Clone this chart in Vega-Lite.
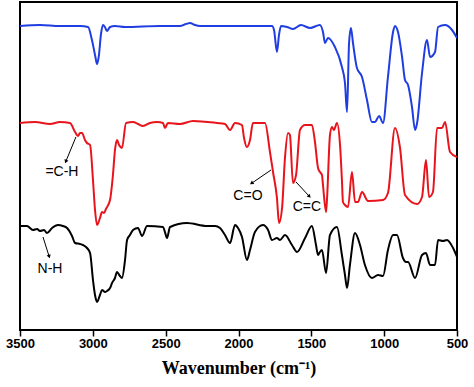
{
  "$schema": "https://vega.github.io/schema/vega-lite/v6.json",
  "width": 437,
  "height": 328,
  "autosize": {"type": "none"},
  "padding": {"left": 20, "top": 2, "right": 17, "bottom": 57},
  "background": "white",
  "config": {
    "view": {"stroke": "black", "strokeWidth": 2},
    "axis": {"grid": false}
  },
  "datasets": {
    "spectra": [
      {"s": "blue", "wn": 3500, "t": 304}, {"s": "blue", "wn": 3363, "t": 305}, {"s": "blue", "wn": 3225, "t": 304}, {"s": "blue", "wn": 3088, "t": 304},
      {"s": "blue", "wn": 3033, "t": 303}, {"s": "blue", "wn": 3006, "t": 290}, {"s": "blue", "wn": 2985, "t": 275}, {"s": "blue", "wn": 2971, "t": 266},
      {"s": "blue", "wn": 2958, "t": 275}, {"s": "blue", "wn": 2944, "t": 296}, {"s": "blue", "wn": 2930, "t": 305}, {"s": "blue", "wn": 2917, "t": 303},
      {"s": "blue", "wn": 2903, "t": 299}, {"s": "blue", "wn": 2882, "t": 303}, {"s": "blue", "wn": 2848, "t": 304}, {"s": "blue", "wn": 2779, "t": 303},
      {"s": "blue", "wn": 2539, "t": 304}, {"s": "blue", "wn": 2402, "t": 304}, {"s": "blue", "wn": 2360, "t": 306}, {"s": "blue", "wn": 2333, "t": 307},
      {"s": "blue", "wn": 2299, "t": 305}, {"s": "blue", "wn": 2264, "t": 304}, {"s": "blue", "wn": 1990, "t": 304}, {"s": "blue", "wn": 1770, "t": 304},
      {"s": "blue", "wn": 1756, "t": 300}, {"s": "blue", "wn": 1736, "t": 278}, {"s": "blue", "wn": 1722, "t": 295}, {"s": "blue", "wn": 1708, "t": 304},
      {"s": "blue", "wn": 1667, "t": 303}, {"s": "blue", "wn": 1626, "t": 301}, {"s": "blue", "wn": 1571, "t": 305}, {"s": "blue", "wn": 1509, "t": 302},
      {"s": "blue", "wn": 1441, "t": 305}, {"s": "blue", "wn": 1420, "t": 298}, {"s": "blue", "wn": 1406, "t": 287}, {"s": "blue", "wn": 1386, "t": 292},
      {"s": "blue", "wn": 1338, "t": 283}, {"s": "blue", "wn": 1290, "t": 263}, {"s": "blue", "wn": 1269, "t": 247}, {"s": "blue", "wn": 1255, "t": 218},
      {"s": "blue", "wn": 1241, "t": 287}, {"s": "blue", "wn": 1228, "t": 302}, {"s": "blue", "wn": 1214, "t": 287}, {"s": "blue", "wn": 1187, "t": 262},
      {"s": "blue", "wn": 1152, "t": 253}, {"s": "blue", "wn": 1118, "t": 230}, {"s": "blue", "wn": 1084, "t": 208}, {"s": "blue", "wn": 1063, "t": 208},
      {"s": "blue", "wn": 1035, "t": 214}, {"s": "blue", "wn": 1008, "t": 207}, {"s": "blue", "wn": 974, "t": 253}, {"s": "blue", "wn": 939, "t": 298},
      {"s": "blue", "wn": 926, "t": 304}, {"s": "blue", "wn": 905, "t": 298}, {"s": "blue", "wn": 877, "t": 273}, {"s": "blue", "wn": 857, "t": 250},
      {"s": "blue", "wn": 836, "t": 245}, {"s": "blue", "wn": 809, "t": 223}, {"s": "blue", "wn": 788, "t": 200}, {"s": "blue", "wn": 774, "t": 207},
      {"s": "blue", "wn": 740, "t": 257}, {"s": "blue", "wn": 706, "t": 290}, {"s": "blue", "wn": 685, "t": 273}, {"s": "blue", "wn": 651, "t": 278},
      {"s": "blue", "wn": 630, "t": 303}, {"s": "blue", "wn": 582, "t": 305}, {"s": "blue", "wn": 534, "t": 300}, {"s": "blue", "wn": 500, "t": 292},

      {"s": "red", "wn": 3500, "t": 207}, {"s": "red", "wn": 3397, "t": 208}, {"s": "red", "wn": 3294, "t": 206}, {"s": "red", "wn": 3225, "t": 208},
      {"s": "red", "wn": 3157, "t": 207}, {"s": "red", "wn": 3122, "t": 198}, {"s": "red", "wn": 3102, "t": 194}, {"s": "red", "wn": 3088, "t": 197},
      {"s": "red", "wn": 3074, "t": 197}, {"s": "red", "wn": 3054, "t": 190}, {"s": "red", "wn": 3040, "t": 187}, {"s": "red", "wn": 3019, "t": 185},
      {"s": "red", "wn": 2999, "t": 150}, {"s": "red", "wn": 2985, "t": 120}, {"s": "red", "wn": 2971, "t": 105}, {"s": "red", "wn": 2951, "t": 112},
      {"s": "red", "wn": 2937, "t": 118}, {"s": "red", "wn": 2923, "t": 117}, {"s": "red", "wn": 2910, "t": 121}, {"s": "red", "wn": 2882, "t": 130},
      {"s": "red", "wn": 2862, "t": 155}, {"s": "red", "wn": 2848, "t": 180}, {"s": "red", "wn": 2834, "t": 190}, {"s": "red", "wn": 2820, "t": 185},
      {"s": "red", "wn": 2800, "t": 182}, {"s": "red", "wn": 2772, "t": 207}, {"s": "red", "wn": 2724, "t": 208}, {"s": "red", "wn": 2690, "t": 206},
      {"s": "red", "wn": 2656, "t": 204}, {"s": "red", "wn": 2608, "t": 207}, {"s": "red", "wn": 2559, "t": 208}, {"s": "red", "wn": 2518, "t": 207},
      {"s": "red", "wn": 2505, "t": 202}, {"s": "red", "wn": 2484, "t": 207}, {"s": "red", "wn": 2402, "t": 206}, {"s": "red", "wn": 2312, "t": 209},
      {"s": "red", "wn": 2148, "t": 207}, {"s": "red", "wn": 2093, "t": 206}, {"s": "red", "wn": 2058, "t": 200}, {"s": "red", "wn": 2024, "t": 207},
      {"s": "red", "wn": 1976, "t": 205}, {"s": "red", "wn": 1962, "t": 192}, {"s": "red", "wn": 1942, "t": 183}, {"s": "red", "wn": 1921, "t": 190},
      {"s": "red", "wn": 1901, "t": 207}, {"s": "red", "wn": 1818, "t": 207}, {"s": "red", "wn": 1784, "t": 178}, {"s": "red", "wn": 1763, "t": 158},
      {"s": "red", "wn": 1736, "t": 132}, {"s": "red", "wn": 1722, "t": 107}, {"s": "red", "wn": 1701, "t": 122}, {"s": "red", "wn": 1681, "t": 172},
      {"s": "red", "wn": 1660, "t": 197}, {"s": "red", "wn": 1647, "t": 195}, {"s": "red", "wn": 1626, "t": 147}, {"s": "red", "wn": 1605, "t": 155},
      {"s": "red", "wn": 1578, "t": 200}, {"s": "red", "wn": 1543, "t": 205}, {"s": "red", "wn": 1496, "t": 205}, {"s": "red", "wn": 1475, "t": 188},
      {"s": "red", "wn": 1454, "t": 162}, {"s": "red", "wn": 1441, "t": 158}, {"s": "red", "wn": 1427, "t": 155}, {"s": "red", "wn": 1420, "t": 145},
      {"s": "red", "wn": 1399, "t": 118}, {"s": "red", "wn": 1392, "t": 132}, {"s": "red", "wn": 1372, "t": 195}, {"s": "red", "wn": 1358, "t": 203},
      {"s": "red", "wn": 1345, "t": 200}, {"s": "red", "wn": 1324, "t": 207}, {"s": "red", "wn": 1303, "t": 185}, {"s": "red", "wn": 1290, "t": 150},
      {"s": "red", "wn": 1283, "t": 128}, {"s": "red", "wn": 1269, "t": 125}, {"s": "red", "wn": 1248, "t": 123}, {"s": "red", "wn": 1221, "t": 158},
      {"s": "red", "wn": 1200, "t": 128}, {"s": "red", "wn": 1180, "t": 128}, {"s": "red", "wn": 1152, "t": 138}, {"s": "red", "wn": 1111, "t": 129},
      {"s": "red", "wn": 1008, "t": 130}, {"s": "red", "wn": 974, "t": 137}, {"s": "red", "wn": 926, "t": 202}, {"s": "red", "wn": 891, "t": 182},
      {"s": "red", "wn": 857, "t": 135}, {"s": "red", "wn": 774, "t": 126}, {"s": "red", "wn": 740, "t": 133}, {"s": "red", "wn": 713, "t": 170},
      {"s": "red", "wn": 692, "t": 133}, {"s": "red", "wn": 665, "t": 138}, {"s": "red", "wn": 637, "t": 202}, {"s": "red", "wn": 603, "t": 202},
      {"s": "red", "wn": 582, "t": 208}, {"s": "red", "wn": 548, "t": 178}, {"s": "red", "wn": 500, "t": 173},

      {"s": "black", "wn": 3500, "t": 104}, {"s": "black", "wn": 3452, "t": 104}, {"s": "black", "wn": 3411, "t": 100}, {"s": "black", "wn": 3383, "t": 101},
      {"s": "black", "wn": 3363, "t": 99}, {"s": "black", "wn": 3335, "t": 100}, {"s": "black", "wn": 3315, "t": 97}, {"s": "black", "wn": 3280, "t": 102},
      {"s": "black", "wn": 3239, "t": 105}, {"s": "black", "wn": 3205, "t": 104}, {"s": "black", "wn": 3177, "t": 102}, {"s": "black", "wn": 3143, "t": 94},
      {"s": "black", "wn": 3122, "t": 87}, {"s": "black", "wn": 3088, "t": 86}, {"s": "black", "wn": 3068, "t": 85}, {"s": "black", "wn": 3040, "t": 82},
      {"s": "black", "wn": 3019, "t": 77}, {"s": "black", "wn": 2999, "t": 50}, {"s": "black", "wn": 2985, "t": 35}, {"s": "black", "wn": 2971, "t": 28},
      {"s": "black", "wn": 2951, "t": 35}, {"s": "black", "wn": 2937, "t": 40}, {"s": "black", "wn": 2916, "t": 38}, {"s": "black", "wn": 2903, "t": 39},
      {"s": "black", "wn": 2882, "t": 42}, {"s": "black", "wn": 2868, "t": 47}, {"s": "black", "wn": 2848, "t": 52}, {"s": "black", "wn": 2834, "t": 58},
      {"s": "black", "wn": 2814, "t": 54}, {"s": "black", "wn": 2800, "t": 52}, {"s": "black", "wn": 2779, "t": 70}, {"s": "black", "wn": 2765, "t": 90},
      {"s": "black", "wn": 2745, "t": 95}, {"s": "black", "wn": 2724, "t": 100}, {"s": "black", "wn": 2690, "t": 102}, {"s": "black", "wn": 2662, "t": 94},
      {"s": "black", "wn": 2628, "t": 104}, {"s": "black", "wn": 2518, "t": 103}, {"s": "black", "wn": 2505, "t": 98}, {"s": "black", "wn": 2491, "t": 92},
      {"s": "black", "wn": 2470, "t": 103}, {"s": "black", "wn": 2354, "t": 107}, {"s": "black", "wn": 2216, "t": 104}, {"s": "black", "wn": 2161, "t": 104},
      {"s": "black", "wn": 2127, "t": 102}, {"s": "black", "wn": 2093, "t": 95}, {"s": "black", "wn": 2058, "t": 87}, {"s": "black", "wn": 2024, "t": 105},
      {"s": "black", "wn": 2003, "t": 102}, {"s": "black", "wn": 1976, "t": 93}, {"s": "black", "wn": 1942, "t": 70}, {"s": "black", "wn": 1921, "t": 80},
      {"s": "black", "wn": 1887, "t": 98}, {"s": "black", "wn": 1832, "t": 105}, {"s": "black", "wn": 1797, "t": 100}, {"s": "black", "wn": 1770, "t": 90},
      {"s": "black", "wn": 1736, "t": 92}, {"s": "black", "wn": 1715, "t": 90}, {"s": "black", "wn": 1681, "t": 95}, {"s": "black", "wn": 1633, "t": 85},
      {"s": "black", "wn": 1598, "t": 78}, {"s": "black", "wn": 1543, "t": 92}, {"s": "black", "wn": 1496, "t": 104}, {"s": "black", "wn": 1468, "t": 85},
      {"s": "black", "wn": 1454, "t": 75}, {"s": "black", "wn": 1441, "t": 78}, {"s": "black", "wn": 1427, "t": 80}, {"s": "black", "wn": 1399, "t": 57},
      {"s": "black", "wn": 1372, "t": 95}, {"s": "black", "wn": 1324, "t": 103}, {"s": "black", "wn": 1290, "t": 75}, {"s": "black", "wn": 1269, "t": 55},
      {"s": "black", "wn": 1255, "t": 42}, {"s": "black", "wn": 1235, "t": 65}, {"s": "black", "wn": 1200, "t": 97}, {"s": "black", "wn": 1166, "t": 85},
      {"s": "black", "wn": 1132, "t": 65}, {"s": "black", "wn": 1084, "t": 52}, {"s": "black", "wn": 1042, "t": 55}, {"s": "black", "wn": 1008, "t": 54},
      {"s": "black", "wn": 974, "t": 80}, {"s": "black", "wn": 939, "t": 95}, {"s": "black", "wn": 912, "t": 95}, {"s": "black", "wn": 871, "t": 72},
      {"s": "black", "wn": 850, "t": 68}, {"s": "black", "wn": 836, "t": 68}, {"s": "black", "wn": 788, "t": 52}, {"s": "black", "wn": 740, "t": 75},
      {"s": "black", "wn": 713, "t": 77}, {"s": "black", "wn": 685, "t": 65}, {"s": "black", "wn": 651, "t": 65}, {"s": "black", "wn": 630, "t": 90},
      {"s": "black", "wn": 596, "t": 89}, {"s": "black", "wn": 569, "t": 90}, {"s": "black", "wn": 527, "t": 82}, {"s": "black", "wn": 500, "t": 73}
    ],
    "notes": [
      {"label": "=C-H", "tx": 3212, "ty": 158, "x1": 3116, "y1": 193, "x2": 3184, "y2": 169},
      {"label": "C=O", "tx": 1935, "ty": 134, "x1": 1777, "y1": 160, "x2": 1907, "y2": 147},
      {"label": "C=C", "tx": 1530, "ty": 123, "x1": 1605, "y1": 148, "x2": 1516, "y2": 134},
      {"label": "N-H", "tx": 3294, "ty": 61, "x1": 3342, "y1": 93, "x2": 3301, "y2": 74}
    ]
  },
  "layer": [
    {
      "data": {"name": "spectra"},
      "mark": {"type": "line", "strokeWidth": 2, "clip": true, "interpolate": "monotone"},
      "encoding": {
        "x": {
          "field": "wn", "type": "quantitative",
          "scale": {"domain": [500, 3500], "reverse": true, "nice": false, "zero": false},
          "axis": {
            "values": [3500, 3250, 3000, 2750, 2500, 2250, 2000, 1750, 1500, 1250, 1000, 750, 500],
            "labelExpr": "datum.value % 500 === 0 ? datum.label : ''",
            "format": "d",
            "domain": false,
            "tickColor": "black",
            "tickWidth": 1.5,
            "tickSize": {"condition": {"test": "datum.value % 500 === 0", "value": 6}, "value": 3},
            "labelFont": "Liberation Sans",
            "labelFontWeight": "bold",
            "labelFontSize": 13,
            "labelColor": "black",
            "labelPadding": 1,
            "labelFlush": false,
            "labelOverlap": false,
            "title": "Wavenumber (cm⁻¹)",
            "titleFont": "Liberation Serif",
            "titleFontWeight": "bold",
            "titleFontSize": 18,
            "titleColor": "black",
            "titlePadding": 9
          }
        },
        "y": {"field": "t", "type": "quantitative", "scale": {"domain": [0, 328], "nice": false, "zero": false}, "axis": null},
        "color": {"field": "s", "type": "nominal", "scale": {"domain": ["blue", "red", "black"], "range": ["#1f3de0", "#e8141c", "#000000"]}, "legend": null},
        "order": {"field": "wn", "sort": "descending"}
      }
    },
    {
      "data": {"name": "notes"},
      "mark": {"type": "rule", "color": "black", "strokeWidth": 1},
      "encoding": {
        "x": {"field": "x1", "type": "quantitative"},
        "y": {"field": "y1", "type": "quantitative"},
        "x2": {"field": "x2"},
        "y2": {"field": "y2"}
      }
    },
    {
      "data": {"name": "notes"},
      "transform": [{"filter": "datum.label === '=C-H'"}],
      "mark": {"type": "point", "shape": "triangle", "filled": true, "color": "black", "size": 18, "angle": 203, "opacity": 1},
      "encoding": {"x": {"field": "x2", "type": "quantitative"}, "y": {"field": "y2", "type": "quantitative"}}
    },
    {
      "data": {"name": "notes"},
      "transform": [{"filter": "datum.label === 'C=O'"}],
      "mark": {"type": "point", "shape": "triangle", "filled": true, "color": "black", "size": 18, "angle": 236, "opacity": 1},
      "encoding": {"x": {"field": "x2", "type": "quantitative"}, "y": {"field": "y2", "type": "quantitative"}}
    },
    {
      "data": {"name": "notes"},
      "transform": [{"filter": "datum.label === 'C=C'"}],
      "mark": {"type": "point", "shape": "triangle", "filled": true, "color": "black", "size": 18, "angle": 137, "opacity": 1},
      "encoding": {"x": {"field": "x2", "type": "quantitative"}, "y": {"field": "y2", "type": "quantitative"}}
    },
    {
      "data": {"name": "notes"},
      "transform": [{"filter": "datum.label === 'N-H'"}],
      "mark": {"type": "point", "shape": "triangle", "filled": true, "color": "black", "size": 18, "angle": 162, "opacity": 1},
      "encoding": {"x": {"field": "x2", "type": "quantitative"}, "y": {"field": "y2", "type": "quantitative"}}
    },
    {
      "data": {"name": "notes"},
      "mark": {"type": "text", "font": "Liberation Sans", "fontSize": 14, "color": "black", "align": "center", "baseline": "middle"},
      "encoding": {
        "x": {"field": "tx", "type": "quantitative"},
        "y": {"field": "ty", "type": "quantitative"},
        "text": {"field": "label"}
      }
    }
  ]
}
